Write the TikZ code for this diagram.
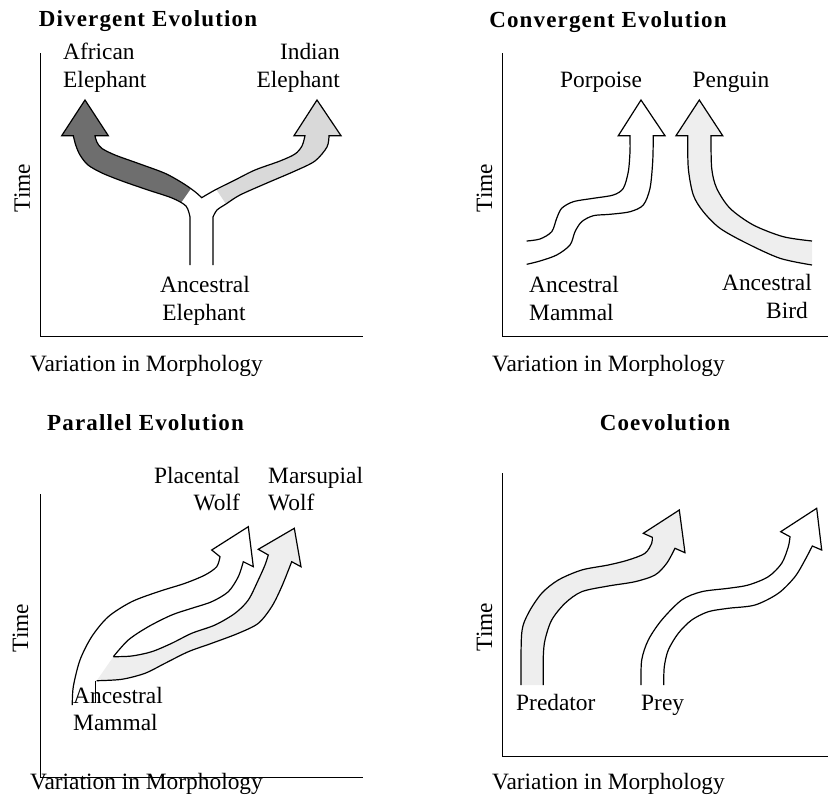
\documentclass[tikz,border=0pt]{standalone}
\usepackage{fontspec}
\setmainfont{Liberation Serif}
\newfontfamily\ttlfam[LetterSpace=5]{Liberation Serif}
\newcommand\lblfont{\fontsize{23.4}{28}\selectfont}
\newcommand\ttlfont{\ttlfam\bfseries\fontsize{23}{26}\selectfont}
\definecolor{darkfill}{HTML}{6E6E6E}
\definecolor{midfill}{HTML}{D9D9D9}
\definecolor{lightfill}{HTML}{EEEEEE}
\tikzset{
  arrowline/.style={line width=1.2pt, line join=miter},
  axisline/.style={line width=1pt},
  lbl/.style={font=\lblfont, inner sep=0pt},
  ttl/.style={font=\ttlfont, inner sep=0pt},
}
\begin{document}
\begin{tikzpicture}[x=1pt,y=-1pt]
\useasboundingbox (0,0) rectangle (828,801);

% ================= Panel 1: Divergent =================
\def\ypath{(190,265) -- (190,217) -- plot[smooth] coordinates {(190,217) (186,206) (172,198) (148,190) (122,181) (102,173) (88,165) (80,155) (75.7,145) (73.3,135.7)}
  -- (61.7,135.7) -- (85,100) -- (108.3,135.7) -- (95,135.7)
  -- plot[smooth] coordinates {(95,135.7) (96.7,141.7) (101.7,148.3) (115,155) (138,163.3) (165,173.3) (183,183.3) (195,191.7) (201.7,197.7)}
  -- plot[smooth] coordinates {(201.7,197.7) (215,190) (235,180) (255,170) (280,161) (295,154) (302,146) (305,135.7)}
  -- (294,135.7) -- (317,100) -- (341,135.7) -- (329,135.7)
  -- plot[smooth] coordinates {(329,135.7) (327,147) (315,161) (295,171) (267,183) (240,195) (226,204) (217,210) (213,217)}
  -- (213,265)}
\begin{scope}
  \clip (171,217) -- (197,180) -- (197,0) -- (0,0) -- (0,217) -- cycle;
  \fill[darkfill] \ypath;
\end{scope}
\begin{scope}
  \clip (212,183) -- (212,0) -- (400,0) -- (400,213) -- (232,213) -- cycle;
  \fill[midfill] \ypath;
\end{scope}
\draw[arrowline] \ypath;
\draw[axisline] (40,53) -- (40,336) -- (363,336);
\node[ttl, anchor=base] (t1) at (148,26) {Divergent Evolution};
\node[lbl, anchor=base, rotate=90] (time1) at (30,188) {Time};
\node[lbl, anchor=base west] (x1) at (30,371) {Variation in Morphology};
\node[lbl, anchor=base west] (af1) at (63,59) {African};
\node[lbl, anchor=base west] (af2) at (63,87) {Elephant};
\node[lbl, anchor=base east] (in1) at (340,59) {Indian};
\node[lbl, anchor=base east] (in2) at (340,87) {Elephant};
\node[lbl, anchor=base] (ae1) at (205,292) {Ancestral};
\node[lbl, anchor=base] (ae2) at (204,320) {Elephant};

% ================= Panel 2: Convergent =================
\draw[arrowline] plot[smooth] coordinates {(526.7,241) (540,239) (551.7,231.7) (556.7,218.3) (561.7,208.3) (573.3,201.7) (593.3,198.3) (613.3,195) (623.3,188.3) (628.3,171.7) (630,151.7) (630,135.7)}
  -- (618.3,135.7) -- (641,100) -- (665,135.7) -- (653.3,135.7)
  -- plot[smooth] coordinates {(653.3,135.7) (652.7,161.7) (650,188.3) (643.3,205) (630,211.7) (610,214.3) (593.3,215.7) (581.7,221.7) (575,231.7) (570,245) (556.7,255) (540,261) (526.7,264.3)};
\filldraw[arrowline, fill=lightfill] plot[smooth] coordinates {(812,265) (780,258.3) (746.7,243.3) (720,228.3) (703.3,211.7) (693.3,195) (688.3,168.3) (687.7,135.7)}
  -- (676,135.7) -- (699.3,100) -- (722.7,135.7) -- (711,135.7)
  -- plot[smooth] coordinates {(711,135.7) (711.7,168.3) (716.7,188.3) (730,208.3) (753.3,225) (783.3,236.7) (812,241)};
\draw[axisline] (502,53) -- (502,336) -- (828,336);
\node[ttl, anchor=base] (t2) at (608,27) {Convergent Evolution};
\node[lbl, anchor=base, rotate=90] (time2) at (492,188) {Time};
\node[lbl, anchor=base west] (x2) at (492,371) {Variation in Morphology};
\node[lbl, anchor=base] (po) at (601,87) {Porpoise};
\node[lbl, anchor=base] (pe) at (731,87) {Penguin};
\node[lbl, anchor=base west] (am1) at (529,292) {Ancestral};
\node[lbl, anchor=base west] (am2) at (529,320) {Mammal};
\node[lbl, anchor=base east] (ab1) at (812,290) {Ancestral};
\node[lbl, anchor=base east] (ab2) at (808,318) {Bird};

% ================= Panel 3: Parallel =================
\draw[arrowline] plot[smooth] coordinates {(72.3,705) (73.3,686.7) (80,660) (91.7,636.7) (108.3,616.7) (131.7,601.7) (158.3,591.7) (185,583.3) (205,575) (216.7,566.7) (220,556.7)}
  -- (211.7,550) -- (248.3,526.7) -- (253.3,566.7) -- (243.3,561.7)
  -- plot[smooth] coordinates {(243.3,561.7) (238.3,576.7) (228.3,591.7) (211.7,601.7) (191.7,608.3) (171.7,615) (148.3,626.7) (128.3,640) (113.3,656.7)};
\filldraw[arrowline, fill=lightfill] plot[smooth] coordinates {(113.3,656.7) (131.7,656) (151.7,651.7) (171.7,643.3) (191.7,633.3) (215,625) (235,613.3) (248.3,600) (258.3,580) (265,565) (268.3,555)}
  -- (258.3,549.3) -- (294.3,528.3) -- (301,566.7) -- (291.7,561.7)
  -- plot[smooth] coordinates {(291.7,561.7) (281.7,586.7) (271.7,606.7) (258.3,623.3) (238.3,633.3) (211.7,643.3) (188.3,651.7) (165,663.3) (145,673.3) (121.7,679.3) (96.7,680.7)};
\draw[arrowline] (95.7,680.7) -- (95.7,703.3);
\draw[axisline] (40,494) -- (40,777) -- (363,777);
\node[ttl, anchor=base] (t3) at (145.5,430) {Parallel Evolution};
\node[lbl, anchor=base, rotate=90] (time3) at (28,628) {Time};
\node[lbl, anchor=base west] (x3) at (30,789) {Variation in Morphology};
\node[lbl, anchor=base east] (pw1) at (240,483) {Placental};
\node[lbl, anchor=base east] (pw2) at (240,510) {Wolf};
\node[lbl, anchor=base west] (mw1) at (268,483) {Marsupial};
\node[lbl, anchor=base west] (mw2) at (268,510) {Wolf};
\node[lbl, anchor=base west] (pm1) at (73,703) {Ancestral};
\node[lbl, anchor=base west] (pm2) at (73,730) {Mammal};

% ================= Panel 4: Coevolution =================
\filldraw[arrowline, fill=lightfill] plot[smooth] coordinates {(521,685) (521.7,633.3) (528.3,613.3) (541.7,593.3) (558.3,580) (581.7,570) (608.3,565) (628.3,560) (645,553.3) (651.7,543.3) (652.3,537.3)}
  -- (643.3,533.3) -- (679.3,510) -- (685,552.7) -- (675,548.3)
  -- plot[smooth] coordinates {(675,548.3) (666.7,563.3) (655,575) (635,581.7) (608.3,586) (581.7,591.7) (565,603.3) (551.7,620) (545,640) (543.3,656.7) (543.3,685)};
\draw[arrowline] plot[smooth] coordinates {(641,685) (641.7,660) (648.3,640) (661.7,620) (681.7,600) (701.7,591.7) (728.3,588.3) (748.3,585) (768.3,576.7) (781.7,563.3) (788.3,546.7) (790,536.7)}
  -- (780.7,531.7) -- (816.7,508.3) -- (821.7,550) -- (812.3,546)
  -- plot[smooth] coordinates {(812.3,546) (805,560) (795,576.7) (778.3,593.3) (755,605) (728.3,608.3) (708.3,611.7) (691.7,620) (678.3,633.3) (668.3,650) (664.3,666.7) (663.7,685)};
\draw[axisline] (502,473) -- (502,756) -- (828,756);
\node[ttl, anchor=base] (t4) at (665,430) {Coevolution};
\node[lbl, anchor=base, rotate=90] (time4) at (492,627) {Time};
\node[lbl, anchor=base west] (x4) at (492,789) {Variation in Morphology};
\node[lbl, anchor=base west] (pr) at (516,710) {Predator};
\node[lbl, anchor=base west] (py) at (641,710) {Prey};
\end{tikzpicture}
\end{document}
